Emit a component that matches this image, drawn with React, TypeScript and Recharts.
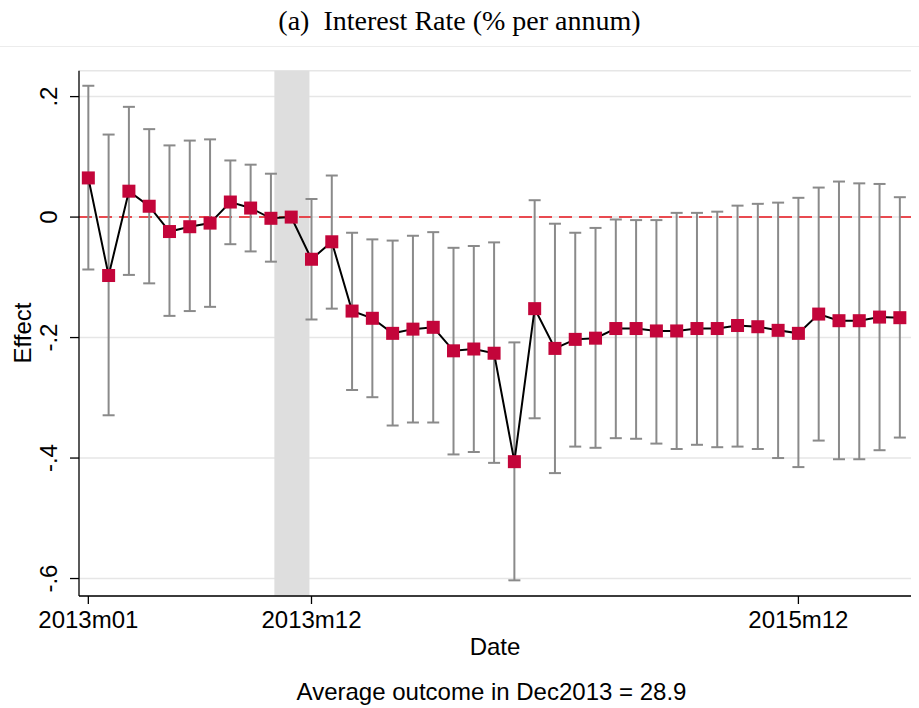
import React from 'react';
import {
  ComposedChart,
  Line,
  XAxis,
  YAxis,
  CartesianGrid,
  ReferenceLine,
  ReferenceArea,
  ErrorBar,
} from 'recharts';

const months = [
  '2013m01', '2013m02', '2013m03', '2013m04', '2013m05', '2013m06', '2013m07', '2013m08', '2013m09', '2013m10', '2013m11', '2013m12',
  '2014m01', '2014m02', '2014m03', '2014m04', '2014m05', '2014m06', '2014m07', '2014m08', '2014m09', '2014m10', '2014m11', '2014m12',
  '2015m01', '2015m02', '2015m03', '2015m04', '2015m05', '2015m06', '2015m07', '2015m08', '2015m09', '2015m10', '2015m11', '2015m12',
  '2016m01', '2016m02', '2016m03', '2016m04', '2016m05',
];

const effect = [
  0.065, -0.097, 0.043, 0.018, -0.024, -0.016, -0.010, 0.025, 0.015, -0.002, 0.0,
  -0.070, -0.041, -0.156, -0.168, -0.193, -0.186, -0.183, -0.222, -0.219, -0.226,
  -0.406, -0.152, -0.218, -0.203, -0.201, -0.185, -0.185, -0.189, -0.189, -0.185,
  -0.185, -0.180, -0.182, -0.188, -0.193, -0.161, -0.172, -0.172, -0.166, -0.167,
];

const ciHigh = [
  0.218, 0.137, 0.183, 0.146, 0.119, 0.127, 0.129, 0.094, 0.087, 0.072, 0.0,
  0.030, 0.069, -0.026, -0.037, -0.039, -0.031, -0.025, -0.051, -0.048, -0.042,
  -0.208, 0.028, -0.011, -0.026, -0.018, -0.004, -0.005, -0.005, 0.007, 0.007,
  0.009, 0.019, 0.022, 0.024, 0.032, 0.049, 0.059, 0.056, 0.055, 0.033,
];

const ciLow = [
  -0.087, -0.329, -0.096, -0.110, -0.164, -0.156, -0.149, -0.045, -0.057, -0.074, 0.0,
  -0.170, -0.152, -0.287, -0.299, -0.346, -0.341, -0.341, -0.394, -0.390, -0.408,
  -0.603, -0.334, -0.425, -0.381, -0.383, -0.367, -0.368, -0.376, -0.385, -0.378,
  -0.382, -0.381, -0.385, -0.400, -0.415, -0.371, -0.402, -0.402, -0.387, -0.366,
];

const xTickLabels = ['2013m01', '2013m12', '2015m12'];
const yTicks = [-0.6, -0.4, -0.2, 0, 0.2];
const yTickLabels = ['-.6', '-.4', '-.2', '0', '.2'];
const shadedBand = [9.17, 10.9];

const data = months.map((m, i) => ({
  idx: i,
  month: m,
  effect: effect[i],
  err: [Math.max(0, effect[i] - ciLow[i]), Math.max(0, ciHigh[i] - effect[i])],
}));

const SANS = '"Liberation Sans", Arial, sans-serif';
const SERIF = '"Liberation Serif", "Times New Roman", serif';
const MARKER = '#C3053A';

const YTick = (props: any) => {
  const { y, payload } = props;
  const i = yTicks.findIndex((t) => Math.abs(t - payload.value) < 1e-9);
  const cx = 49;
  return (
    <text
      x={cx}
      y={y}
      transform={`rotate(-90, ${cx}, ${y})`}
      textAnchor="middle"
      dominantBaseline="central"
      fontSize={24}
      fontFamily={SANS}
      fill="#000"
    >
      {i >= 0 ? yTickLabels[i] : ''}
    </text>
  );
};

const XTick = (props: any) => {
  const { x, y, payload } = props;
  return (
    <text x={x} y={y + 22} textAnchor="middle" fontSize={24} fontFamily={SANS} fill="#000">
      {months[payload.value]}
    </text>
  );
};

const SquareDot = (props: any) => {
  const { cx, cy, index } = props;
  if (cx == null || cy == null) return <g key={`d${index}`} />;
  return <rect key={`d${index}`} x={cx - 6.5} y={cy - 6.5} width={13} height={13} fill={MARKER} />;
};

export default function App() {
  return (
    <div style={{ position: 'absolute', left: 0, top: 0, width: 919, height: 708, background: '#fff' }}>
      <div
        style={{
          position: 'absolute',
          left: 0,
          top: 6.6,
          width: 919,
          textAlign: 'center',
          fontFamily: SERIF,
          fontSize: 28,
          lineHeight: '28px',
          color: '#000',
          whiteSpace: 'pre',
        }}
      >
        {'(a)  Interest Rate (% per annum)'}
      </div>
      <div style={{ position: 'absolute', left: 0, top: 46, width: 919, height: 1, background: '#ececec' }} />
      <div style={{ position: 'absolute', left: 0, top: 0 }}>
        <ComposedChart
          width={919}
          height={708}
          data={data}
          margin={{ top: 70.7, right: 8, bottom: 0, left: 0 }}
        >
          <CartesianGrid vertical={false} stroke="#e6e6e6" strokeWidth={1.5} />
          <ReferenceArea
            x1={shadedBand[0]}
            x2={shadedBand[1]}
            fill="#dedede"
            fillOpacity={1}
            stroke="none"
          />
          <ReferenceLine y={0} stroke="#e8141c" strokeWidth={1.5} strokeDasharray="13 7" />
          <XAxis
            dataKey="idx"
            type="number"
            domain={[-0.46, 40.55]}
            ticks={xTickLabels.map((t) => months.indexOf(t))}
            allowDataOverflow
            height={112}
            tickSize={8}
            axisLine={{ stroke: '#000', strokeWidth: 1.3 }}
            tickLine={{ stroke: '#000', strokeWidth: 1.3 }}
            tick={<XTick />}
            interval={0}
          />
          <YAxis
            type="number"
            domain={[-0.629, 0.243]}
            ticks={yTicks}
            allowDataOverflow
            width={79}
            tickSize={9}
            axisLine={{ stroke: '#000', strokeWidth: 1.3 }}
            tickLine={{ stroke: '#000', strokeWidth: 1.3 }}
            tick={<YTick />}
            interval={0}
          />
          <Line
            dataKey="effect"
            stroke="#000"
            strokeWidth={2}
            isAnimationActive={false}
            dot={<SquareDot />}
            activeDot={false}
          >
            <ErrorBar dataKey="err" direction="y" width={6} stroke="#8a8a8a" strokeWidth={2} isAnimationActive={false} />
          </Line>
        </ComposedChart>
      </div>
      <div
        style={{
          position: 'absolute',
          left: 22.5,
          top: 333,
          transform: 'translate(-50%, -50%) rotate(-90deg)',
          fontFamily: SANS,
          fontSize: 24,
          lineHeight: '24px',
          color: '#000',
          whiteSpace: 'nowrap',
        }}
      >
        Effect
      </div>
      <div
        style={{
          position: 'absolute',
          left: 295,
          top: 635,
          width: 400,
          textAlign: 'center',
          fontFamily: SANS,
          fontSize: 24,
          lineHeight: '24px',
          color: '#000',
        }}
      >
        Date
      </div>
      <div
        style={{
          position: 'absolute',
          left: 191.5,
          top: 680,
          width: 600,
          textAlign: 'center',
          fontFamily: SANS,
          fontSize: 24,
          lineHeight: '24px',
          color: '#000',
          whiteSpace: 'nowrap',
        }}
      >
        Average outcome in Dec2013 = 28.9
      </div>
    </div>
  );
}
